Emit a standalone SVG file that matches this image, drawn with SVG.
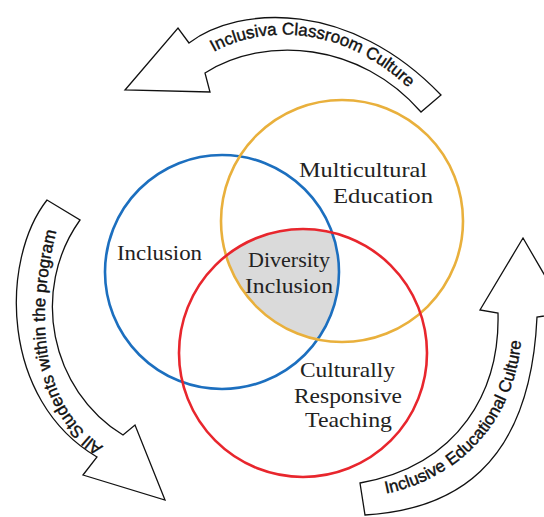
<svg xmlns="http://www.w3.org/2000/svg" width="544" height="517" viewBox="0 0 544 517">
<style>
.arrow{fill:#fff;stroke:#111;stroke-width:1.3;stroke-linejoin:miter}
.atext{font-family:"Liberation Sans",Arial,sans-serif;font-size:17px;fill:#111;stroke:#111;stroke-width:0.4}
.vtext{font-family:"Liberation Serif","Times New Roman",serif;font-size:21px;fill:#222}
.ring{fill:none;stroke-width:2.6}
</style>
<defs>
<clipPath id="clipO"><circle cx="342" cy="221" r="121"/></clipPath>
<clipPath id="clipR"><circle cx="303" cy="353" r="124"/></clipPath>
<path id="tp1" d="M212,53 C260,25 350,20 424,104"/>
<path id="tp2" d="M106,448 C42,410 30,320 62,210"/>
<path id="tp3" d="M384,494 C450,481 518,430 522,328"/>
</defs>
<rect width="544" height="517" fill="#fff"/>
<g id="arrow-top">
<path class="arrow" d="M125,90 L178,28 L189,43 C240,5 350,0 441,95 L421,112 C360,42 265,35 205,73 L210,92 Z"/>
<text class="atext"><textPath href="#tp1" startOffset="2">Inclusiva Classroom Culture</textPath></text>
</g>
<g id="arrow-left">
<path class="arrow" d="M47,200 C0,260 0,400 97,457 L83,475 L165,500 L135,425 L123,435 C50,390 30,290 80,220 Z"/>
<text class="atext"><textPath href="#tp2" startOffset="3">All Students within the program</textPath></text>
</g>
<g id="arrow-right">
<path class="arrow" d="M523,238 L480,310 L498,313 C500,390 460,465 360,483 L365,515 C450,510 530,470 537,317 L544,316 L566,312 Z"/>
<text class="atext"><textPath href="#tp3" startOffset="2">Inclusive Educational Culture</textPath></text>
</g>
<g id="center">
<g clip-path="url(#clipR)"><circle cx="222" cy="272" r="117" fill="#dadada" clip-path="url(#clipO)"/></g>
</g>
<g id="circle-inclusion">
<circle class="ring" cx="222" cy="272" r="117" stroke="#1c6fbf"/>
</g>
<g id="circle-multicultural">
<circle class="ring" cx="342" cy="221" r="121" stroke="#e9b03c"/>
</g>
<g id="circle-crt">
<circle class="ring" cx="303" cy="353" r="124" stroke="#e8262d"/>
</g>
<g id="labels">
<text class="vtext" x="299" y="177" textLength="128" lengthAdjust="spacingAndGlyphs">Multicultural</text>
<text class="vtext" x="333" y="203" textLength="100" lengthAdjust="spacingAndGlyphs">Education</text>
<text class="vtext" x="117" y="260" textLength="85" lengthAdjust="spacingAndGlyphs">Inclusion</text>
<text class="vtext" x="248" y="267" textLength="82" lengthAdjust="spacingAndGlyphs">Diversity</text>
<text class="vtext" x="245" y="293" textLength="88" lengthAdjust="spacingAndGlyphs">Inclusion</text>
<text class="vtext" x="300" y="377" textLength="95" lengthAdjust="spacingAndGlyphs">Culturally</text>
<text class="vtext" x="294" y="403" textLength="108" lengthAdjust="spacingAndGlyphs">Responsive</text>
<text class="vtext" x="305" y="427" textLength="87" lengthAdjust="spacingAndGlyphs">Teaching</text>
</g>
</svg>
